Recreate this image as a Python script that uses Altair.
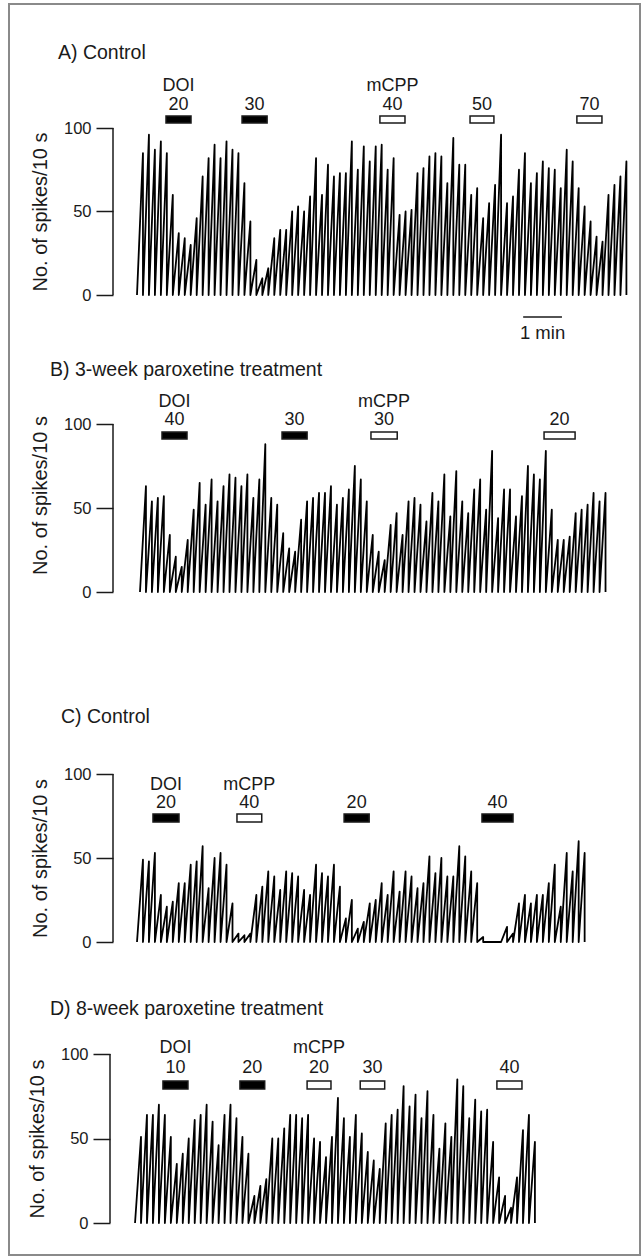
import altair as alt
import pandas as pd

FONT = "Liberation Sans"
INK = "#1a1a1a"

# ---------------- data (peak spike counts per 10-s bin) ----------------
A_PEAKS = [85, 96, 87, 92, 85, 60, 37, 34, 30, 46, 71, 82, 90, 82, 92, 87, 85, 67, 44, 21,
           10, 16, 34, 39, 39, 50, 53, 50, 59, 82, 60, 78, 71, 73, 73, 92, 75, 89, 80, 89,
           90, 75, 82, 48, 50, 51, 73, 76, 83, 85, 83, 67, 94, 78, 78, 60, 64, 46, 55, 66,
           96, 55, 59, 75, 85, 67, 73, 80, 76, 75, 64, 87, 80, 64, 53, 44, 35, 32, 60, 66,
           71, 80]
B_PEAKS = [63, 54, 56, 57, 34, 21, 15, 31, 49, 65, 52, 67, 54, 63, 70, 68, 63, 70, 56, 67,
           88, 56, 52, 35, 26, 24, 43, 54, 56, 59, 59, 63, 52, 56, 61, 75, 67, 54, 34, 24,
           19, 40, 47, 34, 54, 56, 52, 42, 59, 54, 70, 45, 72, 54, 47, 61, 67, 49, 84, 44,
           61, 61, 45, 57, 75, 70, 67, 84, 49, 31, 31, 33, 47, 49, 52, 59, 54, 59]
C_PEAKS = [49, 48, 53, 28, 21, 24, 35, 35, 46, 48, 57, 32, 50, 53, 46, 23, 5, 4, 5, 28,
           33, 42, 39, 31, 42, 41, 39, 31, 28, 46, 41, 39, 46, 33, 14, 25, 8, 12, 23, 25,
           35, 28, 42, 30, 42, 39, 32, 35, 51, 41, 50, 39, 39, 57, 51, 42, 35, 3, 0, 0,
           0, 9, 5, 23, 28, 23, 28, 28, 35, 46, 21, 53, 42, 60, 53]
D_PEAKS = [51, 64, 64, 70, 64, 51, 35, 41, 50, 61, 64, 70, 60, 46, 64, 70, 62, 51, 41, 16,
           22, 26, 50, 50, 56, 64, 64, 62, 64, 50, 48, 39, 51, 74, 62, 51, 64, 53, 42, 37,
           32, 59, 64, 67, 81, 69, 76, 62, 78, 64, 44, 59, 51, 85, 81, 62, 73, 66, 67, 48,
           27, 16, 9, 27, 55, 64, 48]

# drug applications (time in 10-s bins)
A_DRUG = ["DOI", "DOI", "mCPP", "mCPP", "mCPP"]
A_DOSE = ["20", "30", "40", "50", "70"]
A_START = [4.86, 17.6, 40.7, 55.8, 73.7]
A_END = [9.05, 21.8, 44.9, 59.8, 77.9]

B_DRUG = ["DOI", "DOI", "mCPP", "mCPP"]
B_DOSE = ["40", "30", "30", "20"]
B_START = [4.19, 24.3, 39.2, 68.2]
B_END = [8.38, 28.5, 43.6, 73.4]

C_DRUG = ["DOI", "mCPP", "DOI", "DOI"]
C_DOSE = ["20", "40", "20", "40"]
C_START = [2.68, 16.75, 34.7, 57.8]
C_END = [7.04, 20.9, 38.9, 63.0]

D_DRUG = ["DOI", "DOI", "mCPP", "mCPP", "mCPP"]
D_DOSE = ["10", "20", "20", "30", "40"]
D_START = [4.35, 17.25, 28.5, 37.4, 60.3]
D_END = [8.54, 21.4, 32.5, 41.5, 64.5]

TITLES = ["A) Control", "B) 3-week paroxetine treatment", "C) Control",
          "D) 8-week paroxetine treatment"]
SCALE_BAR_LABEL = "1 min"
SCALE_BAR_BINS = [64.7, 71.2]

# ---------------- layout constants ----------------
BIN_PX = 5.97
XMIN, XMAX = -4.02, 82.6
W = round((XMAX - XMIN) * BIN_PX)

xs = alt.Scale(domain=[XMIN, XMAX], nice=False, zero=False)


def trace_frame(peaks, t0):
    t, v = [t0], [0]
    for i, p in enumerate(peaks):
        t += [t0 + i + 1, t0 + i + 1]
        v += [p, 0]
    return pd.DataFrame({"t": t, "v": v, "s": list(range(len(t)))})


def panel(peaks, t0, drug, dose, start, end, bar_lo, bar_hi, dose_v, name_v,
          height, ylo, title, title_xy, title_y, axis_offset=0, extra=None):
    ys = alt.Scale(domain=[ylo, 100], nice=False, zero=False)
    axis_kw = dict(values=[0, 50, 100], tickSize=17, tickWidth=1.5, domain=False,
                   tickColor=INK, labelColor=INK, labelFont=FONT,
                   labelFontSize=16.5, labelPadding=5, title="No. of spikes/10 s",
                   titleFont=FONT, titleFontSize=20, titleFontWeight="normal",
                   titleColor=INK, titlePadding=13, grid=False, offset=axis_offset,
                   titleY=title_y)
    Y = alt.Y("v:Q", scale=ys, axis=alt.Axis(**axis_kw))
    X = alt.X("t:Q", scale=xs, axis=None)

    axis_line = alt.Chart(pd.DataFrame({"t": [XMIN - axis_offset / BIN_PX], "v": [0], "v2": [100]})
                          ).mark_rule(color=INK, strokeWidth=1.5).encode(x=X, y=Y, y2="v2:Q")

    line = alt.Chart(trace_frame(peaks, t0)).mark_line(
        color="black", strokeWidth=1.8, strokeJoin="round").encode(
        x=X, y=Y, order=alt.Order("s:Q"))

    bars = pd.DataFrame({"t": start, "t2": end, "v": [bar_lo] * len(start),
                         "v2": [bar_hi] * len(start), "drug": drug})
    bar = alt.Chart(bars).mark_rect(stroke=INK, strokeWidth=1.5).encode(
        x=X, x2="t2:Q", y=Y, y2="v2:Q",
        color=alt.Color("drug:N", scale=alt.Scale(domain=["DOI", "mCPP"],
                                                    range=["black", "white"]),
                        legend=None))

    centers = [(a + b) / 2 for a, b in zip(start, end)]
    dose_df = pd.DataFrame({"t": centers, "v": [dose_v] * len(centers), "label": dose})
    doses = alt.Chart(dose_df).mark_text(font=FONT, fontSize=18, color=INK,
                                         baseline="middle").encode(x=X, y=Y, text="label:N")

    seen, nt, nl = set(), [], []
    for c, d in zip(centers, drug):
        if d not in seen:
            seen.add(d)
            nt.append(c)
            nl.append(d)
    name_df = pd.DataFrame({"t": nt, "v": [name_v] * len(nt), "label": nl})
    names = alt.Chart(name_df).mark_text(font=FONT, fontSize=18, color=INK,
                                         baseline="middle").encode(x=X, y=Y, text="label:N")

    ttl = alt.Chart(pd.DataFrame({"k": [0]})).mark_text(
        font=FONT, fontSize=19.5, color=INK, align="left", baseline="middle").encode(
        x=alt.value(title_xy[0]), y=alt.value(title_xy[1]), text=alt.value(title))

    layers = [axis_line, line, bar, doses, names, ttl]
    if extra:
        layers += [e(X, Y) for e in extra]
    return alt.layer(*layers).properties(width=W, height=height)


def scale_bar(X, Y):
    df = pd.DataFrame({"t": [SCALE_BAR_BINS[0]], "t2": [SCALE_BAR_BINS[1]], "v": [-13.2]})
    return alt.Chart(df).mark_rule(color=INK, strokeWidth=1.6).encode(x=X, x2="t2:Q", y=Y)


def scale_label(X, Y):
    df = pd.DataFrame({"t": [sum(SCALE_BAR_BINS) / 2], "v": [-22.8], "label": [SCALE_BAR_LABEL]})
    return alt.Chart(df).mark_text(font=FONT, fontSize=18.5, color=INK,
                                   baseline="middle").encode(x=X, y=Y, text="label:N")


def frame(X, Y):
    return alt.Chart(pd.DataFrame({"k": [0]})).mark_rect(
        fillOpacity=0, stroke="#8a8a8a", strokeWidth=2).encode(
        x=alt.value(-104), x2=alt.value(527), y=alt.value(-124), y2=alt.value(1127))


# plot tops (px): A 128, B 424, C 774, D 1054 ; each panel reaches the next one
pa = panel(A_PEAKS, 0.0, A_DRUG, A_DOSE, A_START, A_END, 103.0, 107.2, 113.8, 125.1,
           296, 100 - 296 / 1.67, TITLES[0], (-55, -75), 83.5,
           extra=[frame, scale_bar, scale_label])
pb = panel(B_PEAKS, 0.5, B_DRUG, B_DOSE, B_START, B_END, 91.1, 95.2, 102.6, 113.3,
           350, 100 - 350 / 1.68, TITLES[1], (-63, -54), 71)
pc = panel(C_PEAKS, 0.0, C_DRUG, C_DOSE, C_START, C_END, 71.4, 76.2, 82.7, 93.5,
           280, 100 - 280 / 1.68, TITLES[2], (-52, -57), 84)
pdd = panel(D_PEAKS, -0.33, D_DRUG, D_DOSE, D_START, D_END, 79.3, 84.0, 92.0, 103.4,
            169, 0, TITLES[3], (-63, -45), 84.5, axis_offset=3)

chart = alt.vconcat(pa, pb, pc, pdd, spacing=0, bounds="flush").properties(
    padding={"left": 8, "top": 3, "right": 0, "bottom": 0},
    background="white",
).configure(font=FONT).configure_view(stroke=None, strokeWidth=0)

chart.save("out.html", embed_options={"renderer": "svg", "actions": False})
